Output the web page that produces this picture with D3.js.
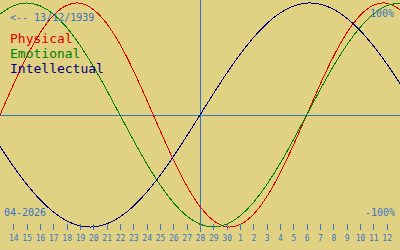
<!DOCTYPE html>
<html>
<head>
<meta charset="utf-8">
<script src="https://cdn.jsdelivr.net/npm/d3@7"></script>
<style>
html,body{margin:0;padding:0;background:#e0d282;}
svg{display:block;}
text{font-family:"DejaVu Sans Mono",monospace;}
</style>
</head>
<body>
<svg id="c" width="400" height="250"></svg>
<script>
// Day labels: Apr 13 .. May 13 (2026)
const days = [13,14,15,16,17,18,19,20,21,22,23,24,25,26,27,28,29,30,1,2,3,4,5,6,7,8,9,10,11,12,13];
const tickDays = days.slice(1, 30); // 14 .. 12 shown
const todayIndex = 15; // 28
const physical = [0,0.270,0.520,0.731,0.888,0.979,0.998,0.942,0.817,0.631,0.398,0.136,-0.136,-0.398,-0.631,-0.817,-0.942,-0.998,-0.979,-0.888,-0.731,-0.520,-0.270,0,0.270,0.520,0.731,0.888,0.979,0.998,0.942];
const emotional = [0.901,0.975,1.0,0.975,0.901,0.782,0.623,0.434,0.223,0,-0.223,-0.434,-0.623,-0.782,-0.901,-0.975,-1.0,-0.975,-0.901,-0.782,-0.623,-0.434,-0.223,0,0.223,0.434,0.623,0.782,0.901,0.975,1.0];
const intellectual = [-0.282,-0.458,-0.618,-0.756,-0.866,-0.945,-0.990,-0.999,-0.972,-0.910,-0.815,-0.690,-0.541,-0.372,-0.189,0,0.189,0.372,0.541,0.690,0.815,0.910,0.972,0.999,0.990,0.945,0.866,0.756,0.618,0.458,0.282];
const seriesNames = ["Physical","Emotional","Intellectual"];
const seriesColors = ["#e00000","#008000","#000080"];
const birthLabel = "<-- 13/12/1939";
const monthLabel = "04-2026";
const topLabel = "100%";
const bottomLabel = "-100%";

const W = 400, H = 250;
const blue = "#3a72c4";
const svg = d3.select("#c");
svg.append("rect").attr("width",W).attr("height",H).attr("fill","#e0d282");

const x = d3.scaleLinear().domain([0, days.length-1]).range([0, W]);
const y = d3.scaleLinear().domain([-1, 1]).range([227, 3]);

// reference lines
svg.append("line").attr("x1",0).attr("x2",W).attr("y1",Math.round(y(0))+0.5).attr("y2",Math.round(y(0))+0.5)
  .attr("stroke",blue).attr("stroke-width",1).attr("shape-rendering","crispEdges");
svg.append("line").attr("x1",Math.round(x(todayIndex))+0.5).attr("x2",Math.round(x(todayIndex))+0.5).attr("y1",0).attr("y2",232)
  .attr("stroke",blue).attr("stroke-width",1).attr("shape-rendering","crispEdges");

// curves
const line = d3.line().x((d,i)=>x(i)).y(d=>y(d)).curve(d3.curveNatural);
[physical, emotional, intellectual].forEach((s,k)=>{
  svg.append("path").attr("d", line(s)).attr("fill","none")
    .attr("stroke", seriesColors[k]).attr("stroke-width",1).attr("shape-rendering","crispEdges");
});

// axis
const ax = d3.axisBottom(x)
  .tickValues(d3.range(1, days.length-1))
  .tickFormat(i => days[i])
  .tickSize(6).tickPadding(5);
const g = svg.append("g").attr("transform","translate(0,224)").call(ax);
g.select(".domain").remove();
g.selectAll(".tick line").attr("stroke",blue).attr("shape-rendering","crispEdges");
g.selectAll(".tick text").attr("fill",blue).style("font-family","'DejaVu Sans Mono',monospace").style("font-size","8px");

// texts
svg.append("text").attr("x",10).attr("y",21).attr("fill",blue).style("font-size","10px").text(birthLabel);
svg.append("text").attr("x",394).attr("y",17).attr("text-anchor","end").attr("fill",blue).style("font-size","10px").text(topLabel);
svg.append("text").attr("x",395).attr("y",216).attr("text-anchor","end").attr("fill",blue).style("font-size","10px").text(bottomLabel);
svg.append("text").attr("x",4).attr("y",216).attr("fill",blue).style("font-size","10px").text(monthLabel);
seriesNames.forEach((n,k)=>{
  svg.append("text").attr("x",10).attr("y",43+k*15).attr("fill",seriesColors[k]).style("font-size","13px").text(n);
});
</script>
</body>
</html>
